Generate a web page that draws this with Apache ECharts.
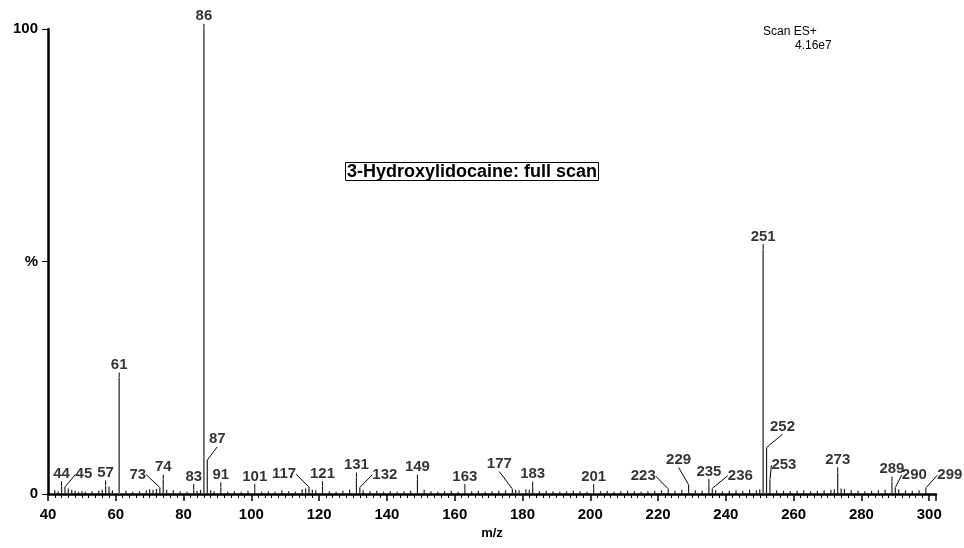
<!DOCTYPE html>
<html>
<head>
<meta charset="utf-8">
<script src="https://cdn.jsdelivr.net/npm/echarts@6/dist/echarts.min.js"></script>
<style>html,body{margin:0;padding:0;background:#fff}#c{width:964px;height:548px}</style>
</head>
<body>
<div id="c"></div>
<script>
// Labelled peaks (m/z, relative intensity %)
const labeledMz  = [44, 45, 57, 61, 73, 74, 83, 86, 87, 91, 101, 117, 121, 131, 132, 149, 163, 177, 183, 201, 223, 229, 235, 236, 251, 252, 253, 273, 289, 290, 299];
const labeledPct = [1.6, 1.5, 1.8, 25, 1.4, 3.0, 1.0, 100, 7.3, 1.4, 1.0, 1.5, 1.6, 3.5, 1.4, 3.0, 1.0, 1.1, 1.5, 1.0, 1.1, 2.0, 2.1, 1.2, 52.6, 10.0, 3.0, 4.6, 2.6, 1.4, 1.3];
// Unlabelled small peaks
const minorMz  = [42, 43, 46, 47, 48, 49, 50, 51, 53, 55, 56, 58, 59, 63, 65, 67, 69, 70, 71, 72, 75, 77, 79, 81, 84, 85, 88, 89, 93, 95, 97, 99, 103, 105, 107, 109, 111, 113, 115, 116, 118, 119, 123, 125, 127, 129, 133, 135, 137, 139, 141, 143, 145, 147, 151, 153, 155, 157, 159, 161, 165, 167, 169, 171, 173, 175, 178, 179, 181, 182, 185, 187, 189, 191, 193, 195, 197, 199, 203, 205, 207, 209, 211, 213, 215, 217, 219, 221, 225, 227, 231, 233, 237, 239, 241, 243, 245, 247, 249, 250, 255, 257, 259, 261, 263, 265, 267, 269, 271, 272, 274, 275, 277, 279, 281, 283, 285, 287, 291, 293, 295, 297];
const minorPct = [0.8, 0.6, 1.2, 0.9, 0.7, 0.5, 0.6, 0.5, 0.6, 0.7, 0.9, 1.6, 0.8, 0.7, 0.5, 0.6, 0.8, 1.0, 0.9, 1.1, 0.9, 0.8, 0.6, 0.5, 0.7, 0.9, 0.8, 0.6, 0.5, 0.6, 0.5, 0.7, 0.5, 0.6, 0.5, 0.8, 0.6, 0.5, 1.0, 1.2, 0.9, 0.8, 0.6, 0.5, 0.7, 0.9, 0.8, 0.6, 0.7, 0.5, 0.6, 0.5, 0.6, 0.7, 0.9, 0.6, 0.5, 0.6, 0.7, 0.5, 0.6, 0.7, 0.5, 0.6, 0.7, 0.8, 0.9, 0.8, 1.0, 0.9, 0.6, 0.7, 0.6, 0.5, 0.6, 0.7, 0.6, 0.5, 0.6, 0.7, 0.5, 0.6, 0.7, 0.6, 0.5, 0.6, 0.7, 0.8, 0.7, 0.9, 0.8, 0.7, 0.8, 0.6, 0.7, 0.8, 0.7, 0.9, 0.8, 1.0, 0.8, 0.7, 0.6, 0.7, 0.8, 0.6, 0.7, 0.8, 0.9, 1.0, 1.2, 1.1, 0.8, 0.7, 0.6, 0.7, 0.8, 0.9, 1.0, 0.8, 0.7, 0.8];
const xTicks = [40, 60, 80, 100, 120, 140, 160, 180, 200, 220, 240, 260, 280, 300];
const yTickLabels = {0: '0', 50: '%', 100: '100'};
const titleText = '3-Hydroxylidocaine: full scan';
const scanText = 'Scan ES+';
const scaleText = '4.16e7';

// Label offsets (pixels) for labels moved away from their peaks
const labelShift = {
  45: [19, 0], 73: [-22, 0], 87: [10, -8], 117: [-25, 0], 132: [25, 0],
  177: [-13, -12], 223: [-25, 0], 229: [-10, -12], 236: [28, 0],
  252: [16, -8], 253: [14, -2], 290: [19, 0], 299: [24, 0]
};

const FONT = '"Liberation Sans", Arial, sans-serif';
const allPeaks = [];
labeledMz.forEach((m, i) => allPeaks.push([m, labeledPct[i]]));
minorMz.forEach((m, i) => allPeaks.push([m, minorPct[i]]));
const labelData = labeledMz.map((m, i) => [m, labeledPct[i]]);

const chart = echarts.init(document.getElementById('c'), null, {renderer: 'canvas'});
chart.setOption({
  animation: false,
  backgroundColor: '#fff',
  grid: {left: 48, right: 28, top: 29, bottom: 54, containLabel: false},
  title: {
    text: titleText, left: 345, top: 162, padding: [1, 2, 0, 2],
    borderColor: '#000', borderWidth: 1,
    textStyle: {fontFamily: FONT, fontSize: 18, fontWeight: 'bold', color: '#000'}
  },
  graphic: [
    {type: 'text', left: 763, top: 26, style: {text: scanText, font: '12px ' + FONT, fill: '#000'}},
    {type: 'text', left: 795, top: 40, style: {text: scaleText, font: '12px ' + FONT, fill: '#000'}}
  ],
  xAxis: {
    type: 'value', min: 40, max: 302, interval: 20,
    name: 'm/z', nameLocation: 'middle', nameGap: 30,
    nameTextStyle: {fontFamily: FONT, fontSize: 13, fontWeight: 'bold', color: '#000'},
    axisLine: {lineStyle: {color: '#000', width: 2.5}},
    axisTick: {show: true, length: 7, lineStyle: {color: '#000', width: 1.5}},
    minorTick: {show: true, splitNumber: 10, length: 4, lineStyle: {color: '#000', width: 1}},
    splitLine: {show: false},
    axisLabel: {
      fontFamily: FONT, fontSize: 15, fontWeight: 'bold', color: '#000', margin: 13,
      formatter: v => (xTicks.indexOf(v) >= 0 ? String(v) : '')
    }
  },
  yAxis: {
    type: 'value', min: 0, max: 100, interval: 50,
    axisLine: {show: true, lineStyle: {color: '#000', width: 2.5}},
    axisTick: {show: true, length: 6, lineStyle: {color: '#000', width: 1}},
    splitLine: {show: false},
    axisLabel: {
      fontFamily: FONT, fontSize: 15, fontWeight: 'bold', color: '#000', margin: 10,
      formatter: v => (yTickLabels[v] !== undefined ? yTickLabels[v] : '')
    }
  },
  series: [
    {
      type: 'custom',
      data: allPeaks,
      encode: {x: 0, y: 1},
      renderItem: (params, api) => {
        const x = api.value(0), y = api.value(1);
        const p0 = api.coord([x, 0]);
        const p1 = api.coord([x, y]);
        return {
          type: 'line',
          shape: {x1: p0[0], y1: p0[1], x2: p1[0], y2: p1[1]},
          style: {stroke: y > 20 ? '#555' : '#222', lineWidth: y > 20 ? 1.6 : 1.2}
        };
      },
      z: 2
    },
    {
      type: 'scatter',
      data: labelData,
      symbolSize: 0.5,
      itemStyle: {color: 'rgba(0,0,0,0)'},
      label: {
        show: true, position: 'top', distance: 5,
        fontFamily: FONT, fontSize: 15, fontWeight: 'bold', color: '#000',
        formatter: p => String(p.value[0])
      },
      labelLine: {show: true, lineStyle: {color: '#000', width: 1}},
      labelLayout: params => {
        const m = labeledMz[params.dataIndex];
        const s = labelShift[m];
        return s ? {dx: s[0], dy: s[1]} : {};
      },
      z: 3
    }
  ]
});
</script>
</body>
</html>
